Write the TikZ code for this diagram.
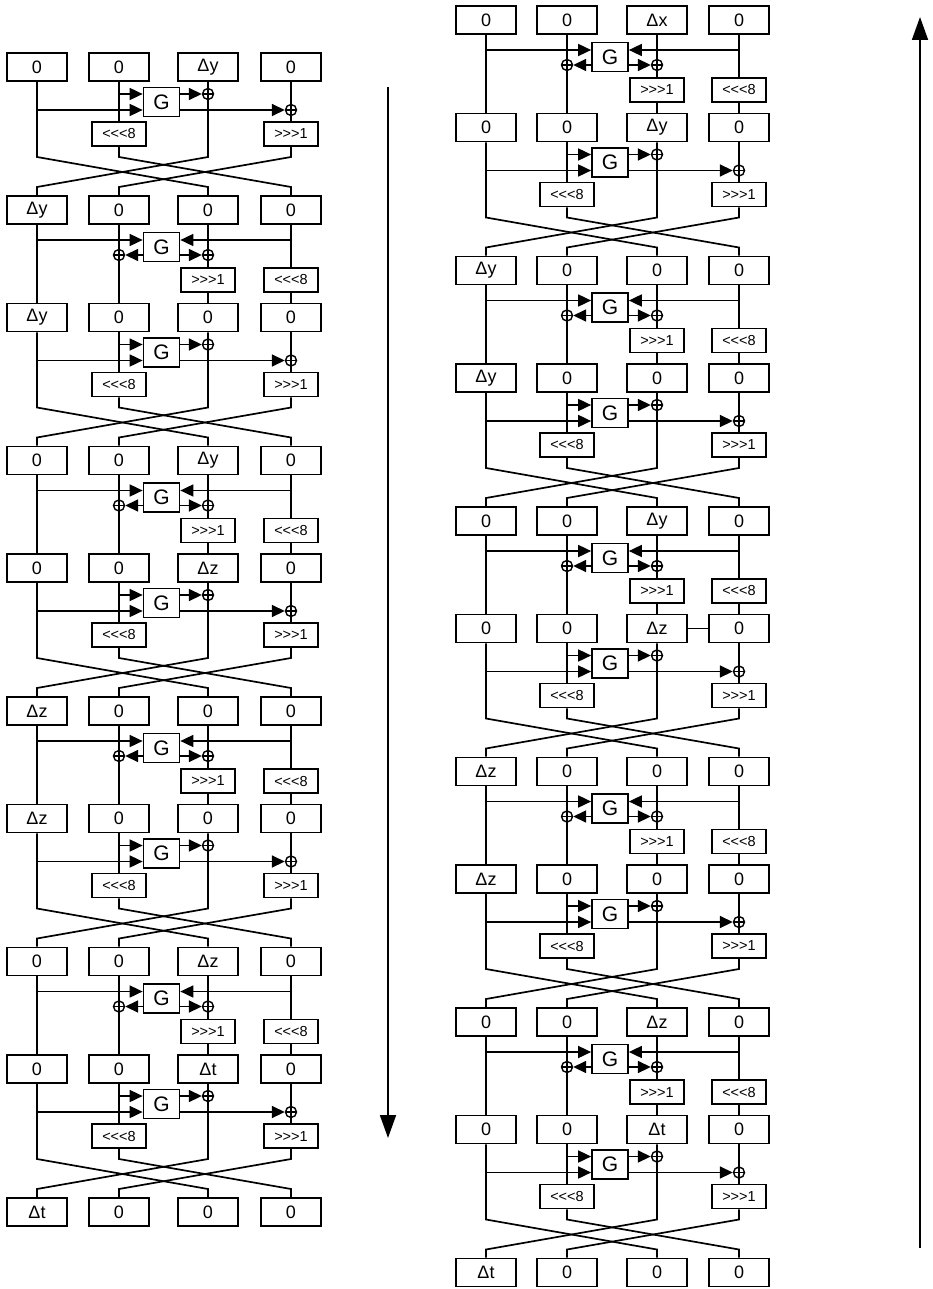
\documentclass[tikz,border=0pt]{standalone}
\usepackage{fontspec}
\setmainfont{Liberation Sans}
\newfontfamily\opfont{Liberation Sans}
\usetikzlibrary{arrows.meta, calc}

\tikzset{
  cell/.style={draw, line width=1.7pt, minimum width=60pt, minimum height=28pt, inner sep=0pt, font=\fontsize{18}{20}\selectfont},
  gbox/.style={draw, line width=1.7pt, minimum width=36pt, minimum height=29pt, inner sep=0pt, font=\fontsize{21}{23}\selectfont},
  rot/.style={draw, line width=1.7pt, minimum width=54pt, minimum height=24pt, inner sep=0pt, font=\opfont\fontsize{14.5}{16}\selectfont},
  xorop/.style={draw, circle, line width=1.4pt, minimum size=11pt, inner sep=0pt,
    path picture={\draw[line width=1.4pt] (path picture bounding box.west) -- (path picture bounding box.east)
      (path picture bounding box.north) -- (path picture bounding box.south);}},
  wire/.style={line width=1.7pt},
  arr/.style={wire, -{Triangle[length=13pt, width=12pt]}},
  flow/.style={line width=1.8pt, -{Triangle[length=23pt, width=16pt]}},
}

% one row of four words: column, row, y, labels
\newcommand{\layrow}[7]{%
  \foreach \lab [count=\i] in {#4,#5,#6,#7}
    \node[cell] (#1#2-\i) at ($(#1-w\i)+(0,#3)$) {\lab};
}

% G from words 1,2 into words 3,4, then the swap: column, row, next row, y
\newcommand{\mixA}[4]{%
  \node[gbox] (#1#2-G) at ($(#1-w2)!0.5!(#1-w3)+(-2,#4+35)$) {G};
  \node[rot] (#1#2-r2) at ($(#1-w2)+(0,#4+67)$) {<<<8};
  \node[rot] (#1#2-r4) at ($(#1-w4)+(0,#4+67)$) {>>>1};
  \node[xorop] (#1#2-x3) at ($(#1-w3)+(0,#4+27)$) {};
  \node[xorop] (#1#2-x4) at ($(#1-w4)+(0,#4+43)$) {};
  \coordinate (#1#2-a1) at ($(#1-w1)+(0,#4+43)$);
  \coordinate (#1#2-a2) at ($(#1-w2)+(0,#4+27)$);
  \foreach \i in {1,...,4} {
    \coordinate (#1#2-t\i) at ($(#1-w\i)+(0,#4+90)$);
    \coordinate (#1#2-u\i) at ($(#1-w\i)+(0,#4+120)$);
  }
  \draw[arr] (#1#2-a2) -- (#1#2-G.west |- #1#2-a2);
  \draw[arr] (#1#2-a1) -- (#1#2-G.west |- #1#2-a1);
  \draw[arr] (#1#2-G.east |- #1#2-x3) -- (#1#2-x3);
  \draw[arr] (#1#2-G.east |- #1#2-x4) -- (#1#2-x4);
  \draw[wire] (#1#2-1) -- (#1#2-t1) -- (#1#2-u3) -- (#1#3-3);
  \draw[wire] (#1#2-2) -- (#1#2-r2);
  \draw[wire] (#1#2-r2) -- (#1#2-t2) -- (#1#2-u4) -- (#1#3-4);
  \draw[wire] (#1#2-3) -- (#1#2-t3) -- (#1#2-u1) -- (#1#3-1);
  \draw[wire] (#1#2-4) -- (#1#2-r4);
  \draw[wire] (#1#2-r4) -- (#1#2-t4) -- (#1#2-u2) -- (#1#3-2);
}

% G from words 1,4 into words 2,3, wires straight on
\newcommand{\mixB}[4]{%
  \node[gbox] (#1#2-G) at ($(#1-w2)!0.5!(#1-w3)+(-2,#4+37)$) {G};
  \node[rot] (#1#2-r3) at ($(#1-w3)+(0,#4+70)$) {>>>1};
  \node[rot] (#1#2-r4) at ($(#1-w4)+(0,#4+70)$) {<<<8};
  \node[xorop] (#1#2-x2) at ($(#1-w2)+(0,#4+45)$) {};
  \node[xorop] (#1#2-x3) at ($(#1-w3)+(0,#4+45)$) {};
  \coordinate (#1#2-a1) at ($(#1-w1)+(0,#4+30)$);
  \coordinate (#1#2-a4) at ($(#1-w4)+(0,#4+30)$);
  \draw[arr] (#1#2-a1) -- (#1#2-G.west |- #1#2-a1);
  \draw[arr] (#1#2-a4) -- (#1#2-G.east |- #1#2-a4);
  \draw[arr] (#1#2-G.west |- #1#2-x2) -- (#1#2-x2);
  \draw[arr] (#1#2-G.east |- #1#2-x3) -- (#1#2-x3);
  \draw[wire] (#1#2-1) -- (#1#3-1);
  \draw[wire] (#1#2-2) -- (#1#3-2);
  \draw[wire] (#1#2-3) -- (#1#2-r3);
  \draw[wire] (#1#2-r3) -- (#1#3-3);
  \draw[wire] (#1#2-4) -- (#1#2-r4);
  \draw[wire] (#1#2-r4) -- (#1#3-4);
}

\begin{document}
\begin{tikzpicture}[x=1pt, y=-1pt]
\useasboundingbox (0,0) rectangle (932,1289);

% word positions
\foreach \x [count=\i] in {37,119,208,291} \coordinate (L-w\i) at (\x,0);
\foreach \x [count=\i] in {486,567,657,739} \coordinate (R-w\i) at (\x,0);

% Left: forward
\layrow{L}{1}{67}{0}{0}{Δy}{0}
\layrow{L}{2}{210}{Δy}{0}{0}{0}
\layrow{L}{3}{317.5}{Δy}{0}{0}{0}
\layrow{L}{4}{460.5}{0}{0}{Δy}{0}
\layrow{L}{5}{568}{0}{0}{Δz}{0}
\layrow{L}{6}{711}{Δz}{0}{0}{0}
\layrow{L}{7}{818.5}{Δz}{0}{0}{0}
\layrow{L}{8}{961.5}{0}{0}{Δz}{0}
\layrow{L}{9}{1069}{0}{0}{Δt}{0}
\layrow{L}{10}{1212}{Δt}{0}{0}{0}

\mixA{L}{1}{2}{67}
\mixB{L}{2}{3}{210}
\mixA{L}{3}{4}{317.5}
\mixB{L}{4}{5}{460.5}
\mixA{L}{5}{6}{568}
\mixB{L}{6}{7}{711}
\mixA{L}{7}{8}{818.5}
\mixB{L}{8}{9}{961.5}
\mixA{L}{9}{10}{1069}

% Right: backward
\layrow{R}{1}{20}{0}{0}{Δx}{0}
\layrow{R}{2}{127.5}{0}{0}{Δy}{0}
\layrow{R}{3}{270.5}{Δy}{0}{0}{0}
\layrow{R}{4}{378}{Δy}{0}{0}{0}
\layrow{R}{5}{521}{0}{0}{Δy}{0}
\layrow{R}{6}{628.5}{0}{0}{Δz}{0}
\layrow{R}{7}{771.5}{Δz}{0}{0}{0}
\layrow{R}{8}{879}{Δz}{0}{0}{0}
\layrow{R}{9}{1022}{0}{0}{Δz}{0}
\layrow{R}{10}{1129.5}{0}{0}{Δt}{0}
\layrow{R}{11}{1272.5}{Δt}{0}{0}{0}

\mixB{R}{1}{2}{20}
\mixA{R}{2}{3}{127.5}
\mixB{R}{3}{4}{270.5}
\mixA{R}{4}{5}{378}
\mixB{R}{5}{6}{521}
\mixA{R}{6}{7}{628.5}
\mixB{R}{7}{8}{771.5}
\mixA{R}{8}{9}{879}
\mixB{R}{9}{10}{1022}
\mixA{R}{10}{11}{1129.5}
\draw[wire] (R6-3) -- (R6-4);

% direction arrows
\coordinate (down-top) at (388,87);
\coordinate (down-end) at (388,1138);
\coordinate (up-top) at (920,17);
\coordinate (up-end) at (920,1248);
\draw[flow] (down-top) -- (down-end);
\draw[flow] (up-end) -- (up-top);

\end{tikzpicture}
\end{document}
